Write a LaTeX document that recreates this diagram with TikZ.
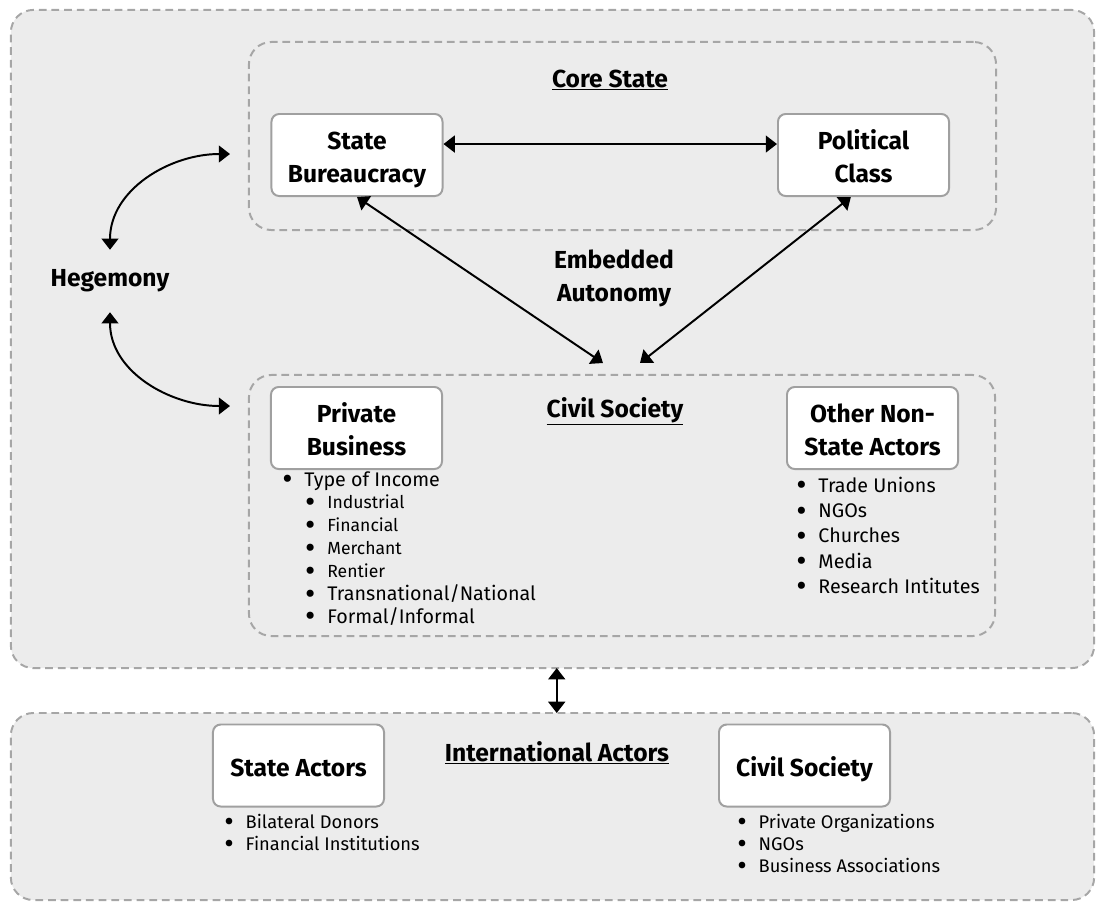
\documentclass[tikz,border=0pt]{standalone}
\usepackage{fontspec}
\setmainfont{Fira Sans}
\usetikzlibrary{arrows.meta}

\definecolor{regionfill}{HTML}{ECECEC}
\definecolor{dashgray}{HTML}{A6A6A6}
\definecolor{boxgray}{HTML}{A0A0A0}

\newcommand{\itm}[1]{\smash{\raisebox{-0.17em}{\scalebox{1.6}{\textbullet}}}\hspace{8.5pt}#1}
\newcommand{\subsize}{\fontsize{12.5}{16.3}\selectfont}
\newcommand{\lowstrut}{\rule{0pt}{21pt}}

\begin{document}
\begin{tikzpicture}[x=0.025cm,y=-0.025cm,
 region/.style={
    rectangle,
    draw=dashgray,
    fill=regionfill,
    line width=1.4pt,
    dash pattern=on 5.5pt off 3.5pt,
    rounded corners=16pt,
    inner sep=0pt,
    outer sep=0pt
 },
 block/.style={
    rectangle,
    draw=boxgray,
    fill=white,
    line width=1.4pt,
    rounded corners=5.5pt,
    minimum width=4.275cm,
    minimum height=2.05cm,
    align=center,
    inner sep=2pt,
    execute at end node={\rule[-5pt]{0pt}{5pt}},
    font=\bfseries\fontsize{17.5}{23.4}\selectfont
 },
 heading/.style={
    anchor=base,
    inner sep=0pt,
    font=\bfseries\fontsize{17.5}{23.4}\selectfont
 },
 note/.style={
    align=center,
    font=\bfseries\fontsize{17.5}{23.4}\selectfont
 },
 itemlist/.style={
    anchor=north west,
    align=left,
    inner sep=0pt,
    font=\fontsize{14}{16.3}\selectfont
 },
 arr/.style={
    line width=1.4pt,
    {Triangle[length=8pt,width=12pt]}-{Triangle[length=8pt,width=12pt]}
 }
 ]
 \useasboundingbox (0,0) rectangle (1096,902);

 %regions
 \node[region, minimum width=27.075cm, minimum height=16.45cm] (domestic) at (552.5,339) {};
 \node[region, minimum width=27.075cm, minimum height=4.675cm] (intl) at (552.5,806.5) {};
 \node[region, minimum width=18.675cm, minimum height=4.7cm] (core) at (622.5,136) {};
 \node[region, minimum width=18.65cm, minimum height=6.525cm] (civil) at (622,505.5) {};

 %titles
 \node[heading] (coretitle) at (610,87) {\underline{Core State}};
 \node[heading] (civiltitle) at (615,417) {\underline{Civil Society}};
 \node[heading] (intltitle) at (557,761) {\underline{International Actors}};

 %core state
 \node[block] (sb) at (357,155) {\lowstrut State\\Bureaucracy};
 \node[block] (pc) at (863.5,155) {\lowstrut Political\\Class};

 %civil society
 \node[block] (pb) at (356.5,428) {\lowstrut Private\\Business};
 \node[block] (onsa) at (872.5,428) {\lowstrut Other Non-\\State Actors};
 \node[itemlist] (pblist) at (282,471) {\itm{Type of Income}\\
  \hspace{16.3pt}\itm{{\subsize Industrial}}\\
  \hspace{16.3pt}\itm{{\subsize Financial}}\\
  \hspace{16.3pt}\itm{{\subsize Merchant}}\\
  \hspace{16.3pt}\itm{{\subsize Rentier}}\\
  \hspace{16.3pt}\itm{Transnational/National}\\
  \hspace{16.3pt}\itm{Formal/Informal}};
 \node[itemlist, font=\fontsize{14}{17.9}\selectfont] (onsalist) at (796,477) {\itm{Trade Unions}\\
  \itm{NGOs}\\
  \itm{Churches}\\
  \itm{Media}\\
  \itm{Research Intitutes}};

 %international
 \node[block] (sa) at (298.5,765.5) {\lowstrut State Actors};
 \node[block] (ics) at (804.5,765.5) {\lowstrut Civil Society};
 \node[itemlist, font=\fontsize{13}{15.6}\selectfont] (salist) at (224,814) {\itm{Bilateral Donors}\\
  \itm{Financial Institutions}};
 \node[itemlist, font=\fontsize{13}{15.6}\selectfont] (icslist) at (737,814) {\itm{Private Organizations}\\
  \itm{NGOs}\\
  \itm{Business Associations}};

 %hegemony, embedded autonomy
 \node[note, inner sep=14pt] (heg) at (110,281) {Hegemony};
 \node[note] (emb) at (614,278) {Embedded\\Autonomy};
 \coordinate (corein) at (230,154);
 \coordinate (civilin) at (230,406);
 \coordinate (emba) at (603,363);
 \coordinate (embb) at (640,363);

 %arrows
 \draw[arr] ([yshift=7.8pt]sb.east) -- ([yshift=7.8pt]pc.west);
 \draw[arr] (sb.south) -- (emba);
 \draw[arr] ([xshift=-9pt]pc.south) -- (embb);
 \draw[arr] (heg.north) to[out=90,in=180] (corein);
 \draw[arr] (heg.south) to[out=-90,in=180] (civilin);
 \draw[arr] ([xshift=3pt]domestic.south) -- ([xshift=3pt]intl.north);
\end{tikzpicture}
\end{document}
